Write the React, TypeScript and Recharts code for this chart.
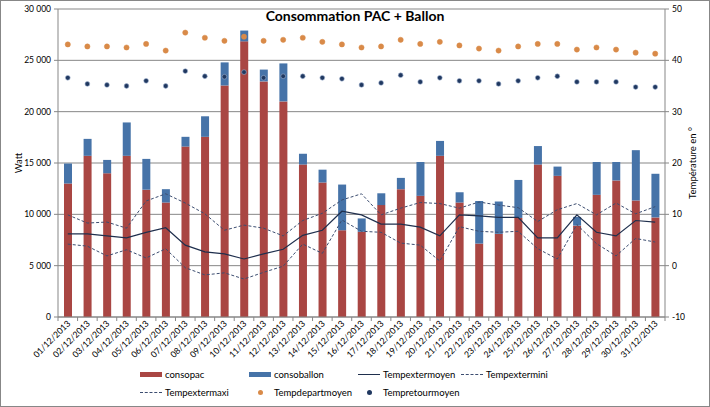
import React from 'react'
import {
  ComposedChart,
  Bar,
  Line,
  XAxis,
  YAxis,
  CartesianGrid,
  Label,
} from 'recharts'

const dates = [
  '01/12/2013', '02/12/2013', '03/12/2013', '04/12/2013', '05/12/2013', '06/12/2013',
  '07/12/2013', '08/12/2013', '09/12/2013', '10/12/2013', '11/12/2013', '12/12/2013',
  '13/12/2013', '14/12/2013', '15/12/2013', '16/12/2013', '17/12/2013', '18/12/2013',
  '19/12/2013', '20/12/2013', '21/12/2013', '22/12/2013', '23/12/2013', '24/12/2013',
  '25/12/2013', '26/12/2013', '27/12/2013', '28/12/2013', '29/12/2013', '30/12/2013',
  '31/12/2013',
]

const consopac = [
  13000, 15700, 14000, 15700, 12400, 11150, 16600, 17550, 22550, 26850, 22950,
  21000, 14850, 13100, 8450, 8300, 10900, 12450, 11800, 15700, 11150, 7150,
  8100, 9650, 14850, 13750, 8900, 11900, 13300, 11350, 9700,
]
const consoballon = [
  1950, 1650, 1300, 3250, 3000, 1300, 950, 2000, 2250, 1050, 1150,
  3700, 1050, 1250, 4450, 1300, 1150, 1100, 3300, 1450, 1000, 4150,
  3150, 3700, 1800, 900, 850, 3200, 1800, 4900, 4250,
]
const tempextermoyen = [
  6.2, 6.2, 5.8, 5.4, 6.5, 7.4, 4.0, 2.7, 2.3, 1.3, 2.3, 3.2, 5.9, 6.9, 10.6, 9.9,
  8.1, 8.1, 7.5, 5.8, 9.9, 9.7, 9.4, 9.4, 5.4, 5.4, 9.9, 6.5, 5.8, 8.8, 8.5,
]
const tempextermini = [
  4.2, 3.8, 1.9, 3.1, 1.5, 3.3, -0.4, -1.8, -1.4, -2.6, -1.3, -0.1, 4.2, 2.4, 8.9, 6.7,
  6.5, 4.4, 4.0, 0.9, 7.6, 6.7, 6.5, 6.7, 3.3, 1.3, 8.0, 4.3, 1.9, 5.3, 4.6,
]
const tempextermaxi = [
  9.9, 8.3, 8.5, 7.3, 12.6, 14.0, 12.2, 10.1, 6.9, 7.9, 7.3, 5.8, 8.8, 10.2, 12.8, 14.0,
  9.9, 11.2, 12.3, 12.1, 11.2, 12.4, 11.8, 11.3, 8.6, 10.9, 12.1, 9.9, 12.2, 10.1, 11.5,
]
const tempdepartmoyen = [
  43.1, 42.7, 42.7, 42.5, 43.2, 41.9, 45.4, 44.4, 43.8, 44.6, 43.8, 44.0, 44.4, 43.6, 43.1, 42.5,
  42.7, 44.0, 43.2, 43.6, 42.9, 42.3, 41.9, 42.7, 43.2, 43.2, 42.1, 42.5, 42.1, 41.5, 41.3,
]
const tempretourmoyen = [
  36.6, 35.4, 35.2, 35.0, 36.0, 35.0, 37.9, 36.9, 36.8, 37.7, 36.6, 36.9, 36.9, 36.6, 36.4, 35.2,
  35.6, 37.1, 35.8, 36.6, 36.0, 36.0, 35.4, 36.0, 36.6, 36.9, 35.8, 35.8, 35.8, 34.8, 34.8,
]

const wattTicks = [0, 5000, 10000, 15000, 20000, 25000, 30000]
const tempTicks = [-10, 0, 10, 20, 30, 40, 50]

const data = dates.map((date, i) => ({
  date,
  consopac: consopac[i],
  consoballon: consoballon[i],
  tempextermoyen: tempextermoyen[i],
  tempextermini: tempextermini[i],
  tempextermaxi: tempextermaxi[i],
  tempdepartmoyen: tempdepartmoyen[i],
  tempretourmoyen: tempretourmoyen[i],
}))

const FONT = 'Lato, "Open Sans", sans-serif'
const GRID = '#878787'
const RED = '#A94643'
const BLUE = '#4673A8'
const NAVY = '#1F2F4D'
const DASH = '#3C4D70'
const ORANGE = '#D98A48'
const DOT_BLUE = '#203860'

const CHART_W = 708
const CHART_H = 405
const LEFT_W = 57
const RIGHT_W = 43
const PLOT_W = CHART_W - LEFT_W - RIGHT_W - 1

// legend columns like Excel: swatch start x in px
const legendRows = [
  [
    { name: 'consopac', kind: 'bar', color: RED, x: 140 },
    { name: 'consoballon', kind: 'bar', color: BLUE, x: 249 },
    { name: 'Tempextermoyen', kind: 'line', color: NAVY, x: 358 },
    { name: 'Tempextermini', kind: 'dash', color: DASH, x: 461 },
  ],
  [
    { name: 'Tempextermaxi', kind: 'dash', color: DASH, x: 140 },
    { name: 'Tempdepartmoyen', kind: 'dot', color: ORANGE, x: 249 },
    { name: 'Tempretourmoyen', kind: 'dot', color: DOT_BLUE, x: 358 },
  ],
]

const fmtWatt = (v: number) => (v === 0 ? '0' : `${Math.round(v / 1000)} 000`)

function DateTick(props: any) {
  const { x, y, payload, index } = props
  const band = PLOT_W / dates.length
  return (
    <g>
      {index === 0 && (
        <line x1={x - band / 2} y1={y} x2={x - band / 2} y2={y + 4} stroke={GRID} />
      )}
      <line x1={x + band / 2} y1={y} x2={x + band / 2} y2={y + 4} stroke={GRID} />
      <text
        transform={`translate(${x + 1},${y + 5}) rotate(-45)`}
        textAnchor="end"
        dy="0.35em"
        fontSize={8.7}
        fontFamily={FONT}
        fill="#000"
      >
        {payload.value}
      </text>
    </g>
  )
}

function Swatch({ kind, color }: { kind: string; color: string }) {
  if (kind === 'bar') {
    return <div style={{ width: 22, height: 5, background: color }} />
  }
  if (kind === 'dot') {
    return (
      <div style={{ width: 22, display: 'flex', justifyContent: 'center' }}>
        <div style={{ width: 5, height: 5, borderRadius: '50%', background: color }} />
      </div>
    )
  }
  return (
    <div
      style={{
        width: 22,
        borderTop: `1px ${kind === 'dash' ? 'dashed' : 'solid'} ${color}`,
      }}
    />
  )
}

export default function App() {
  return (
    <div
      style={{
        position: 'relative',
        width: 710,
        height: 407,
        boxSizing: 'border-box',
        border: `1px solid ${GRID}`,
        background: '#fff',
        fontFamily: FONT,
      }}
    >
      <style>{'body{margin:0}'}</style>
      <ComposedChart
        width={CHART_W}
        height={CHART_H}
        data={data}
        margin={{ top: 8, right: 1, left: 0, bottom: 29 }}
        barSize={8}
      >
        <CartesianGrid yAxisId="left" vertical={false} stroke={GRID} strokeWidth={1} />
        <XAxis
          dataKey="date"
          interval={0}
          height={60}
          tickSize={0}
          tickMargin={0}
          tickLine={false}
          axisLine={{ stroke: GRID }}
          tick={<DateTick />}
        />
        <YAxis
          yAxisId="left"
          width={LEFT_W}
          domain={[0, 30000]}
          ticks={wattTicks}
          tickFormatter={fmtWatt}
          tickSize={4}
          tickMargin={3}
          tick={{ fontSize: 8.5, fill: '#000', fontFamily: FONT }}
          axisLine={{ stroke: GRID }}
          tickLine={{ stroke: GRID }}
        >
          <Label
            value="Watt"
            angle={-90}
            position="center"
            dx={-11}
            style={{ fontSize: 9.5, fill: '#000', fontFamily: FONT }}
          />
        </YAxis>
        <YAxis
          yAxisId="right"
          orientation="right"
          width={RIGHT_W}
          domain={[-10, 50]}
          ticks={tempTicks}
          tickSize={4}
          tickMargin={3}
          tick={{ fontSize: 8.5, fill: '#000', fontFamily: FONT }}
          axisLine={{ stroke: GRID }}
          tickLine={{ stroke: GRID }}
        >
          <Label
            value="Température en °"
            angle={-90}
            position="center"
            dx={6}
            style={{ fontSize: 9.5, fill: '#000', fontFamily: FONT }}
          />
        </YAxis>
        <Bar yAxisId="left" dataKey="consopac" stackId="a" fill={RED} isAnimationActive={false} />
        <Bar yAxisId="left" dataKey="consoballon" stackId="a" fill={BLUE} isAnimationActive={false} />
        <Line
          yAxisId="right"
          dataKey="tempextermoyen"
          stroke={NAVY}
          strokeWidth={1.2}
          dot={false}
          type="linear"
          isAnimationActive={false}
        />
        <Line
          yAxisId="right"
          dataKey="tempextermini"
          stroke={DASH}
          strokeWidth={1}
          strokeDasharray="3 2"
          dot={false}
          type="linear"
          isAnimationActive={false}
        />
        <Line
          yAxisId="right"
          dataKey="tempextermaxi"
          stroke={DASH}
          strokeWidth={1}
          strokeDasharray="3 2"
          dot={false}
          type="linear"
          isAnimationActive={false}
        />
        <Line
          yAxisId="right"
          dataKey="tempdepartmoyen"
          stroke="none"
          dot={{ r: 2.6, fill: ORANGE, stroke: ORANGE, strokeWidth: 0.5 }}
          isAnimationActive={false}
        />
        <Line
          yAxisId="right"
          dataKey="tempretourmoyen"
          stroke="none"
          dot={{ r: 2.4, fill: DOT_BLUE, stroke: '#9DB0CF', strokeWidth: 0.6 }}
          isAnimationActive={false}
        />
      </ComposedChart>

      <div
        style={{
          position: 'absolute',
          top: 6,
          left: 0,
          width: 708,
          textAlign: 'center',
          fontSize: 14,
          fontWeight: 700,
          color: '#000',
          paddingLeft: 0,
        }}
      >
        Consommation PAC + Ballon
      </div>

      {legendRows.map((row, r) => (
        <div key={r}>
          {row.map((item) => (
            <div
              key={item.name}
              style={{
                position: 'absolute',
                left: item.x - 1,
                top: 366 + r * 18,
                height: 14,
                display: 'flex',
                alignItems: 'center',
                gap: 3,
                fontSize: 9.5,
                color: '#000',
                whiteSpace: 'nowrap',
              }}
            >
              <Swatch kind={item.kind} color={item.color} />
              <span>{item.name}</span>
            </div>
          ))}
        </div>
      ))}
    </div>
  )
}
